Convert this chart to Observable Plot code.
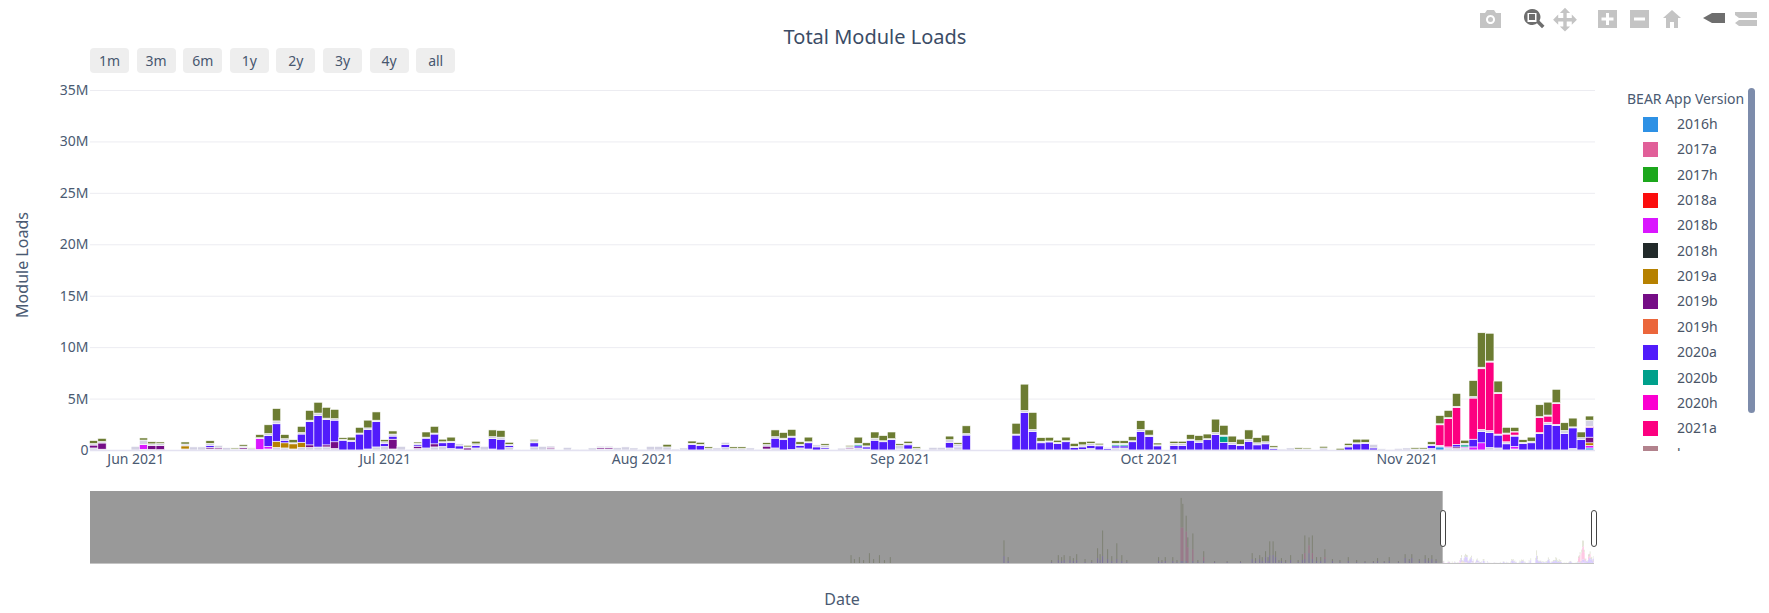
<!DOCTYPE html>
<html>
<head>
<meta charset="utf-8">
<script src="https://cdn.jsdelivr.net/npm/d3@7"></script>
<script src="https://cdn.jsdelivr.net/npm/@observablehq/plot@0.6"></script>
<style>
html,body{margin:0;padding:0;background:#fff;width:1769px;height:613px;overflow:hidden;font-family:"Noto Sans",sans-serif;color:#2a3f5f}
.abs{position:absolute}
.mid{position:absolute;transform:translate(-50%,-50%);white-space:nowrap}
.btn{position:absolute;top:48px;width:39px;height:25px;line-height:25px;background:#eeeeee;border-radius:4px;text-align:center;font-size:14px;color:#47566e}
.sw{position:absolute;left:1643px;width:15px;height:15px}
.lb{position:absolute;left:1677px;font-size:14px;line-height:20px;color:#4a5568}
svg{display:block}
</style>
</head>
<body>
<div id="main" class="abs" style="left:0;top:0"></div>
<div id="slider" class="abs" style="left:0;top:480px"></div>
<div id="ui"></div>
<script>
// ---------- chart text ----------
const chartTitle = "Total Module Loads";
const yTitle = "Module Loads";
const xTitle = "Date";
const legendTitle = "BEAR App Version";
const rangeButtons = ["1m","3m","6m","1y","2y","3y","4y","all"];
const legendVersions = ["2016h","2017a","2017h","2018a","2018b","2018h","2019a","2019b","2019h","2020a","2020b","2020h","2021a","l"];
const legendColors = ["#2E91E5","#E15F99","#1CA71C","#FB0D0D","#DA16FF","#222A2A","#B68100","#750D86","#EB663B","#511CFB","#00A08B","#FB00D1","#FC0080","#B2828D"];
const yTicks = [0,5e6,10e6,15e6,20e6,25e6,30e6,35e6];
const monthTicks = ["2021-06-01","2021-07-01","2021-08-01","2021-09-01","2021-10-01","2021-11-01"];

// ---------- values in millions, as [day index from firstDay, value] ----------
const firstDay = "2021-05-27";
const dayCount = 181;
const olive = [[0,.28],[1,.3],[6,.2],[7,.2],[8,.15],[11,.2],[14,.25],[17,.1],[18,.14],[19,.05],[20,.3],[21,.85],[22,1.2],[23,.4],[24,.3],[25,.6],[26,.95],[27,1.05],[28,1.05],[29,.9],[30,.15],[31,.3],[32,.55],[33,.75],[34,.8],[35,.2],[36,.3],[39,.12],[40,.5],[41,.65],[42,.25],[43,.4],[45,.15],[46,.25],[48,.65],[49,.65],[50,.2],[53,.12],[69,.25],[72,.22],[73,.2],[74,.15],[77,.15],[78,.15],[81,.18],[82,.65],[83,.55],[84,.65],[85,.25],[86,.45],[88,.15],[91,.12],[92,.6],[93,.3],[94,.6],[95,.5],[96,.65],[97,.15],[98,.2],[99,.15],[103,.35],[104,.15],[105,.75],[111,1.05],[112,2.55],[113,1.65],[114,.35],[115,.35],[116,.2],[117,.35],[118,.3],[119,.3],[120,.2],[121,.15],[123,.25],[124,.25],[125,.4],[126,.85],[127,.5],[128,.18],[130,.2],[131,.2],[132,.45],[133,.5],[134,.45],[135,1.3],[136,.95],[137,.6],[138,.5],[139,.9],[140,.5],[141,.65],[142,.15],[145,.12],[146,.1],[148,.15],[150,.16],[151,.2],[152,.35],[153,.3],[159,.12],[160,.12],[161,.25],[162,.8],[163,.7],[164,1.25],[165,.3],[166,1.55],[167,3.35],[168,2.7],[169,1.1],[170,.55],[171,.4],[172,.25],[173,.4],[174,1.15],[175,1.25],[176,1.3],[177,.75],[178,.85],[179,.55],[180,.4]];
const blue2020a = [[14,.2],[21,1.05],[22,1.7],[23,.25],[25,.8],[26,2.25],[27,3.05],[28,2.45],[29,2.1],[30,.95],[31,.85],[32,1.55],[33,1.9],[34,2.45],[35,.3],[36,.3],[39,.15],[40,.95],[41,.95],[42,.35],[43,.6],[44,.3],[46,.25],[48,1],[49,1.05],[50,.2],[53,.4],[72,.55],[73,.45],[76,.3],[82,.95],[83,1],[84,1.2],[85,.25],[86,.6],[87,.3],[88,.15],[92,.2],[93,.2],[94,.95],[95,.8],[96,1],[98,.4],[103,.55],[104,.1],[105,1.45],[111,1.45],[112,3.65],[113,1.8],[114,.7],[115,.78],[116,.65],[117,.8],[118,.25],[119,.25],[120,.3],[121,.4],[122,.15],[123,.2],[124,.2],[125,.8],[126,1.8],[127,1.3],[128,.4],[130,.45],[131,.45],[132,.95],[133,.75],[134,1],[135,1.5],[136,.75],[137,.55],[138,.45],[139,.85],[140,.5],[141,.6],[142,.15],[151,.3],[152,.6],[153,.65],[154,.2],[161,.3],[164,.25],[166,.75],[167,1.1],[168,1.45],[169,1.25],[170,.6],[171,1],[172,.65],[173,.7],[174,1.6],[175,2.5],[176,2.4],[177,1.6],[178,2],[179,1],[180,.95]];
const pink2021a = [[162,2],[163,2.75],[164,3.6],[166,4],[167,5.9],[168,6.65],[169,3.95],[170,.75],[171,.3],[174,1.45],[175,.6],[176,2],[180,.1]];
const purple2019b = [[0,.28],[1,.6],[7,.4],[8,.4],[14,.15],[15,.12],[18,.13],[26,.25],[28,.2],[29,.65],[36,.95],[39,.2],[41,.3],[45,.2],[55,.15],[61,.12],[62,.12],[81,.28],[91,.1],[164,.15],[180,.55]];
const gold2019a = [[11,.3],[22,.6],[23,.5],[24,.5],[25,.5],[180,.25]];
const magenta2018b = [[6,.45],[20,1.05],[21,.25],[163,.1],[165,.1],[166,.3],[167,.7],[171,.25],[180,.25]];
const teal2020b = [[92,.15],[123,.15],[124,.15],[136,.6],[165,.2]];
const lightBlue2016h = [[162,.3],[180,.2]];
const paleLow = [[0,.2],[1,.08],[6,.07],[7,.05],[8,.03],[11,.1],[14,.1],[15,.08],[18,.1],[20,.05],[21,.1],[22,.25],[23,.2],[24,.1],[25,.25],[26,.25],[27,.29],[28,.3],[29,.15],[33,.1],[34,.3],[35,.35],[36,.1],[39,.15],[40,.2],[41,.3],[42,.35],[43,.15],[44,.1],[46,.2],[48,.1],[50,.25],[53,.3],[55,.12],[61,.1],[62,.1],[76,.25],[81,.1],[82,.2],[84,.05],[85,.2],[86,.1],[88,.1],[91,.1],[92,.2],[93,.1],[97,.1],[98,.1],[103,.2],[104,.25],[119,.05],[120,.15],[123,.2],[124,.2],[161,.15],[162,.15],[163,.2],[164,.15],[165,.2],[168,.25],[169,.2],[171,.1],[178,.15]];
const paleMid = [[167,.2],[168,.2],[169,.1],[170,.2],[171,.1],[174,.1],[175,.2],[176,.1]];
const paleHigh = [[0,.15],[1,.15],[5,.35],[6,.45],[7,.15],[8,.2],[11,.18],[12,.3],[13,.3],[14,.2],[15,.25],[16,.22],[17,.1],[18,.15],[19,.15],[20,.1],[21,.2],[22,.28],[23,.15],[24,.1],[25,.15],[26,.15],[27,.25],[28,.15],[29,.15],[30,.1],[31,.1],[32,.1],[33,.15],[34,.15],[35,.15],[36,.2],[37,.35],[38,.08],[39,.15],[40,.1],[41,.1],[42,.1],[43,.1],[44,.2],[45,.1],[46,.15],[47,.35],[48,.2],[49,.2],[50,.1],[51,.05],[52,.05],[53,.2],[54,.35],[55,.12],[57,.25],[58,.08],[59,.08],[60,.2],[61,.15],[62,.15],[63,.22],[64,.3],[65,.2],[66,.08],[67,.35],[68,.35],[69,.3],[70,.1],[71,.2],[72,.1],[73,.1],[74,.15],[75,.2],[76,.2],[77,.15],[78,.15],[79,.2],[80,.08],[81,.15],[82,.15],[83,.15],[84,.1],[85,.1],[86,.1],[87,.2],[88,.2],[89,.05],[90,.18],[91,.12],[92,.1],[93,.1],[94,.2],[95,.1],[96,.1],[97,.35],[98,.15],[99,.15],[101,.25],[102,.25],[103,.25],[104,.2],[105,.15],[111,.1],[112,.2],[113,.2],[114,.15],[115,.1],[116,.1],[117,.1],[118,.1],[119,.2],[120,.2],[121,.1],[122,.1],[123,.1],[124,.1],[125,.1],[126,.2],[127,.15],[128,.1],[130,.2],[131,.2],[132,.1],[133,.15],[134,.1],[135,.2],[136,.1],[137,.2],[138,.1],[139,.2],[140,.2],[141,.2],[142,.1],[143,.1],[144,.2],[145,.1],[146,.1],[148,.2],[151,.15],[152,.1],[153,.1],[154,.35],[155,.12],[156,.07],[157,.15],[158,.2],[159,.1],[160,.1],[161,.1],[162,.1],[163,.1],[164,.1],[165,.15],[166,.15],[167,.15],[168,.1],[169,.1],[170,.1],[171,.05],[172,.1],[173,.15],[174,.1],[175,.1],[176,.1],[177,.3],[178,.1],[179,.2],[180,.6]];

// series stacked bottom to top
const stackNames = ["2016h","paleLow","2018b","2019a","2019b","2020a","2020b","paleMid","2021a","paleHigh","olive"];
const stackValues = [lightBlue2016h,paleLow,magenta2018b,gold2019a,purple2019b,blue2020a,teal2020b,paleMid,pink2021a,paleHigh,olive];
const stackColors = ["#2E91E5","#d3d1e3","#DA16FF","#B68100","#750D86","#511CFB","#00A08B","#d3d1e3","#FC0080","#d3d1e3","#6C7C32"];

// ---------- range slider history (before the selected window) ----------
const sliderStart = "2016-12-20";
const sliderDayOffsets = [910,920,932,944,957,1093,1158,1165,1172,1180,1205,1211,1217,1228,1234,1278,1286,1295,1305,1307,1311,1313,1319,1332,1390,1399,1406,1411,1415,1418,1425,1436,1453,1458,1462,1467,1477,1486,1505,1515,1540,1554,1573,1581,1597,1605,914,925,937,950,1098,1150,1162,1176,1190,1198,1208,1222,1240,1282,1300,1325,1345,1360,1376,1394,1402,1409,1422,1430,1445,1450,1472,1495,1525,1535,1548,1565,1578,1590,1601,1610];
const sliderOlive = [4,3,5,4,3,8,2.5,2.5,2,3,5,13,5,8,3,2,2,2,15,12,8,5,8,3,3,2,3,7,7,3,1.5,2.5,9,4,9,2,4,1,2,1,1.5,2,2,2,2,2,2,1.5,2,1.5,2,1,2,1.5,1.5,1,3,2.5,1,1,1,1,.5,.5,.5,1.5,2,2,1,1,1,3,2,1,.5,.5,.5,.5,1,1,1.5,1];
const sliderPink = [0,0,0,0,0,0,0,0,0,0,0,0,0,0,0,0,0,0,17,17,15,8,6,2,0,0,0,0,0,0,0,0,3,4,3,0,1,0,0,0,0,0,0,0,0,0,0,0,0,0,0,0,0,0,0,0,0,0,0,0,0,0,0,0,0,0,0,0,0,0,0,0,0,0,0,0,0,0,0,0,0,0];
const sliderBlue = [0,0,0,0,0,3.5,1.5,1.5,1.5,1.5,2.5,3.5,2,2,1,1,1,1,1,1,1,0,1,1,2,2,3,4,4,3,1,1.5,2,5,2,1,2,1,1,.5,1,1,2.5,2.5,2,2,0,0,0,0,1,.5,1,1,.5,.5,1.5,1,.5,.5,.5,.5,.5,.5,.5,1,1,1,.5,.5,.5,1.5,1,.5,.5,.5,.5,.5,1,1,1,1];

// ---------- building the rows ----------
const DAY = 864e5;
const d0 = new Date(firstDay + "T00:00:00Z");
const rows = [];
for (let i = 0; i < dayCount; i++) {
  let base = 0;
  stackNames.forEach((name, k) => {
    const hit = stackValues[k].find(p => p[0] === i);
    if (!hit) return;
    const v = hit[1] * 1e6;
    rows.push({start: new Date(+d0 + (i - .5) * DAY), end: new Date(+d0 + (i + .5) * DAY), y1: base, y2: base + v, series: name});
    base += v;
  });
}
const s0 = new Date(sliderStart + "T00:00:00Z");
const historyRows = [];
sliderDayOffsets.forEach((off, i) => {
  let base = 0;
  [["2020a", sliderBlue[i]], ["2021a", sliderPink[i]], ["olive", sliderOlive[i]]].forEach(([name, v]) => {
    if (!v) return;
    historyRows.push({start: new Date(+s0 + off * DAY), end: new Date(+s0 + (off + 1.3) * DAY), y1: base, y2: base + v * 1e6, series: name});
    base += v * 1e6;
  });
});

const windowStart = new Date(+d0 - .445 * DAY);
const windowEnd = new Date(+d0 + 180.66 * DAY);
const colorScale = {domain: stackNames, range: stackColors};

// ---------- main chart ----------
const main = Plot.plot({
  width: 1769, height: 480,
  marginLeft: 90, marginRight: 174, marginTop: 90, marginBottom: 30,
  style: {fontFamily: '"Noto Sans",sans-serif', fontSize: "14px", color: "#4a5a72", background: "transparent", overflow: "visible"},
  x: {type: "utc", domain: [windowStart, windowEnd]},
  y: {domain: [0, 35e6]},
  color: colorScale,
  marks: [
    Plot.ruleY(yTicks, {stroke: "#ececf1", strokeWidth: 1}),
    Plot.rectY(rows, {x1: "start", x2: "end", y1: "y1", y2: "y2", fill: "series", stroke: "#fff", strokeWidth: .6}),
    Plot.ruleY([0], {stroke: "#e4e2f1", strokeWidth: 1.5}),
    Plot.axisY({ticks: yTicks, tickSize: 0, tickPadding: 2, label: null, fontSize: 14,
      tickFormat: d => d === 0 ? "0" : d / 1e6 + "M"}),
    Plot.axisX({ticks: monthTicks.map(d => new Date(d + "T00:00:00Z")), tickSize: 0, tickPadding: 4, label: null, fontSize: 14,
      tickFormat: d3.utcFormat("%b %Y")})
  ]
});
document.getElementById("main").append(main);

// ---------- range slider ----------
const slider = Plot.plot({
  width: 1769, height: 133,
  marginLeft: 90, marginRight: 175, marginTop: 11, marginBottom: 50,
  style: {background: "transparent", overflow: "visible"},
  x: {type: "utc", domain: [s0, windowEnd], axis: null},
  y: {domain: [0, 36.5e6], axis: null},
  color: colorScale,
  marks: [
    Plot.rectY(rows, {x1: "start", x2: "end", y1: "y1", y2: "y2", fill: "series", fillOpacity: .22}),
    Plot.rectY(historyRows, {x1: "start", x2: "end", y1: "y1", y2: "y2", fill: "series", fillOpacity: .85}),
    Plot.ruleY([0], {x1: s0, x2: windowEnd, stroke: "#8a8a8a", strokeWidth: 1, strokeOpacity: .5}),
    Plot.rect([{a: s0, b: windowStart}], {x1: "a", x2: "b", y1: 0, y2: 36.5e6, fill: "#808080", fillOpacity: .8})
  ]
});
document.getElementById("slider").append(slider);

// ---------- page furniture ----------
const ui = document.getElementById("ui");
function add(html){ui.insertAdjacentHTML("beforeend", html);}
add(`<div class="mid" style="left:875px;top:36px;font-size:20px;color:#3b4c66">${chartTitle}</div>`);
add(`<div class="mid" style="left:22px;top:265px;font-size:16px;color:#4a5a72;transform:translate(-50%,-50%) rotate(-90deg)">${yTitle}</div>`);
add(`<div class="mid" style="left:842px;top:599px;font-size:16px;color:#4a5a72">${xTitle}</div>`);
rangeButtons.forEach((b, i) => add(`<div class="btn" style="left:${90 + i * 46.6}px">${b}</div>`));
add(`<div class="abs" style="left:1627px;top:88px;font-size:14px;line-height:22px;color:#4a5a72;white-space:nowrap">${legendTitle}</div>`);
add(`<div id="legend" class="abs" style="left:0;top:0;width:1769px;height:451px;overflow:hidden"></div>`);
const legend = document.getElementById("legend");
legendVersions.forEach((v, i) => {
  const cy = 124 + i * 25.35;
  legend.insertAdjacentHTML("beforeend", `<div class="sw" style="top:${cy - 7.5}px;background:${legendColors[i]}"></div><div class="lb" style="top:${cy - 10}px">${v}</div>`);
});
add(`<div class="abs" style="left:1748px;top:88px;width:7px;height:325px;border-radius:4px;background:#7d8cab"></div>`);
// slider handles
[1443, 1594].forEach(x => add(`<div class="abs" style="left:${x - 3}px;top:510px;width:4px;height:35px;background:#fff;border:1.5px solid #444;border-radius:3px"></div>`));
// modebar icons
add(`<svg class="abs" style="left:1470px;top:0" width="299" height="40" viewBox="0 0 299 40">
<g fill="#c4c4c4">
<path d="M10 13h5l2-3h7l2 3h5v15H10z M20.500 15a4.500 4.500 0 1 0 .01 0z" fill-rule="evenodd"/><circle cx="20.500" cy="19.500" r="2.500"/>
<path d="M95 13l-3 3h2v3h-3v-2l-3 3 3 3v-2h3v3h-2l3 3 3-3h-2v-3h3v2l3-3-3-3v2h-3v-3h2z" transform="translate(95,18) scale(1.7) translate(-95,-19)"/>
<path d="M128 10h19v18h-19z M136 13v4.500h-4.500v3H136V25h3v-4.500h4.500v-3H139V13z" fill-rule="evenodd"/>
<path d="M160 10h19v18h-19z M164 17.500v3h11v-3z" fill-rule="evenodd"/>
<path d="M202 10l9 8h-3v10h-4v-6h-4v6h-4V18h-3z"/>
<path d="M265 12h22v6h-18l-4-3z M269 20h18v6h-18l-4-3z"/>
</g>
<g fill="#6e6e6e">
<path d="M242 14h13v10h-13l-9-5z" transform="translate(0,-1)"/>
<path d="M62 10a8 8 0 1 0 5 14.200l5 5 2.500-2.500-5-5A8 8 0 0 0 62 10z M57.500 14h9v9h-9z" fill-rule="evenodd" transform="translate(0,-1)"/>
<rect x="59" y="14" width="6" height="6"/>
</g>
</svg>`);
</script>
</body>
</html>
